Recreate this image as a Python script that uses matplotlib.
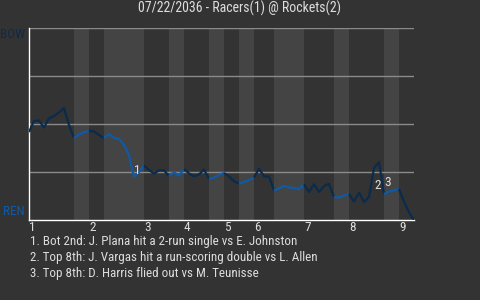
import matplotlib
matplotlib.use('Agg')
import matplotlib.pyplot as plt
from matplotlib import font_manager

# --- Data ---
TITLE = '07/22/2036 - Racers(1) @ Rockets(2)'
AWAY_ABBR = 'BOW'
HOME_ABBR = 'REN'

# away-team win probability after each play (index = play number)
win_prob = [0.458, 0.516, 0.518, 0.482, 0.529, 0.542, 0.560, 0.583, 0.495, 0.427,
            0.445, 0.458, 0.464, 0.461, 0.443, 0.427, 0.448, 0.427, 0.422, 0.391,
            0.339, 0.224, 0.250, 0.284, 0.260, 0.242, 0.258, 0.258, 0.229, 0.248,
            0.231, 0.266, 0.243, 0.227, 0.237, 0.263, 0.214, 0.221, 0.234, 0.245,
            0.227, 0.201, 0.190, 0.198, 0.208, 0.221, 0.268, 0.227, 0.227, 0.154,
            0.164, 0.177, 0.169, 0.167, 0.161, 0.186, 0.146, 0.186, 0.146, 0.177,
            0.188, 0.120, 0.117, 0.128, 0.135, 0.096, 0.142, 0.094, 0.120, 0.271,
            0.302, 0.135, 0.148, 0.154, 0.161, 0.096, 0.039, 0.0]

# play number where each half inning starts
top_starts = [0, 12, 23, 31, 39, 45, 55, 64, 74]
bot_starts = [9, 15, 28, 36, 42, 49, 61, 71]
inning_labels = ['1', '2', '3', '4', '5', '6', '7', '8', '9']

# key plays
play_index = [21, 69, 71]
play_offset = [0, -24, 5]   # label nudge in pixels
play_text = ['Bot 2nd: J. Plana hit a 2-run single vs E. Johnston',
             'Top 8th: J. Vargas hit a run-scoring double vs L. Allen',
             'Top 8th: D. Harris flied out vs M. Teunisse']

# --- Style ---
BG = '#333333'
BAND = '#444444'
GRID = '#8a8a8a'
TXT = '#dddddd'
AWAY_COLOR = '#0b2b4c'
HOME_COLOR = '#0f5aa6'

# use a narrow face if one is around, else regular sans
names = {f.name for f in font_manager.fontManager.ttflist}
narrow = [n for n in ['Roboto Condensed', 'Liberation Sans Narrow', 'DejaVu Sans Condensed',
                      'Open Sans Condensed'] if n in names]
plt.rcParams['font.family'] = narrow + ['DejaVu Sans']
plt.rcParams['font.stretch'] = 'condensed'

fig = plt.figure(figsize=(4.8, 3.0), dpi=100, facecolor=BG)
ax = fig.add_axes([0.0604, 0.2667, 0.8021, 0.64])
ax.set_facecolor(BG)

n_plays = len(win_prob) - 1
ax.set_xlim(0, n_plays)
ax.set_ylim(0, 1)

# shade bottom halves
for j, b in enumerate(bot_starts):
    ax.axvspan(b, top_starts[j + 1], color=BAND, lw=0, zorder=0)

for g in [0.25, 0.5, 0.75, 1.0]:
    ax.axhline(g, color=GRID, lw=1, zorder=1)

# line, coloured by half inning
bounds = sorted(top_starts + bot_starts) + [n_plays]
for i in range(len(bounds) - 1):
    xs = list(range(bounds[i], bounds[i + 1] + 1))
    ys = [win_prob[k] for k in xs]
    ax.plot(xs, ys, color=AWAY_COLOR if i % 2 == 0 else HOME_COLOR,
            lw=1.6, solid_capstyle='butt', zorder=3)

for num, (idx, off) in enumerate(zip(play_index, play_offset), start=1):
    ax.annotate(str(num), xy=(idx, win_prob[idx]), xytext=(0, off),
                textcoords='offset pixels', ha='left', va='bottom',
                color=TXT, fontsize=9.5, zorder=4)

for side in ['top', 'right']:
    ax.spines[side].set_visible(False)
for side in ['left', 'bottom']:
    ax.spines[side].set_color('white')
    ax.spines[side].set_linewidth(1)

ax.set_xticks(top_starts)
ax.set_xticklabels(inning_labels, ha='left')
ax.set_yticks([])
ax.tick_params(axis='x', length=0, pad=1, labelcolor=TXT, labelsize=9.5)

ax.annotate(AWAY_ABBR, xy=(0, 1), xycoords='axes fraction', xytext=(-4, 0),
            textcoords='offset pixels', ha='right', va='top',
            color=AWAY_COLOR, fontsize=9.5)
ax.annotate(HOME_ABBR, xy=(0, 0), xycoords='axes fraction', xytext=(-4, 2),
            textcoords='offset pixels', ha='right', va='bottom',
            color=HOME_COLOR, fontsize=9.5)

fig.text(0.5, 1 - 8 / 300, TITLE, ha='center', va='center', color=TXT, fontsize=10)

for num, txt in enumerate(play_text, start=1):
    fig.text(30 / 480, 1 - (241 + 16 * (num - 1)) / 300, f'{num}. {txt}',
             ha='left', va='center', color=TXT, fontsize=9.4)

fig.savefig('out.png', dpi=100, facecolor=BG)
